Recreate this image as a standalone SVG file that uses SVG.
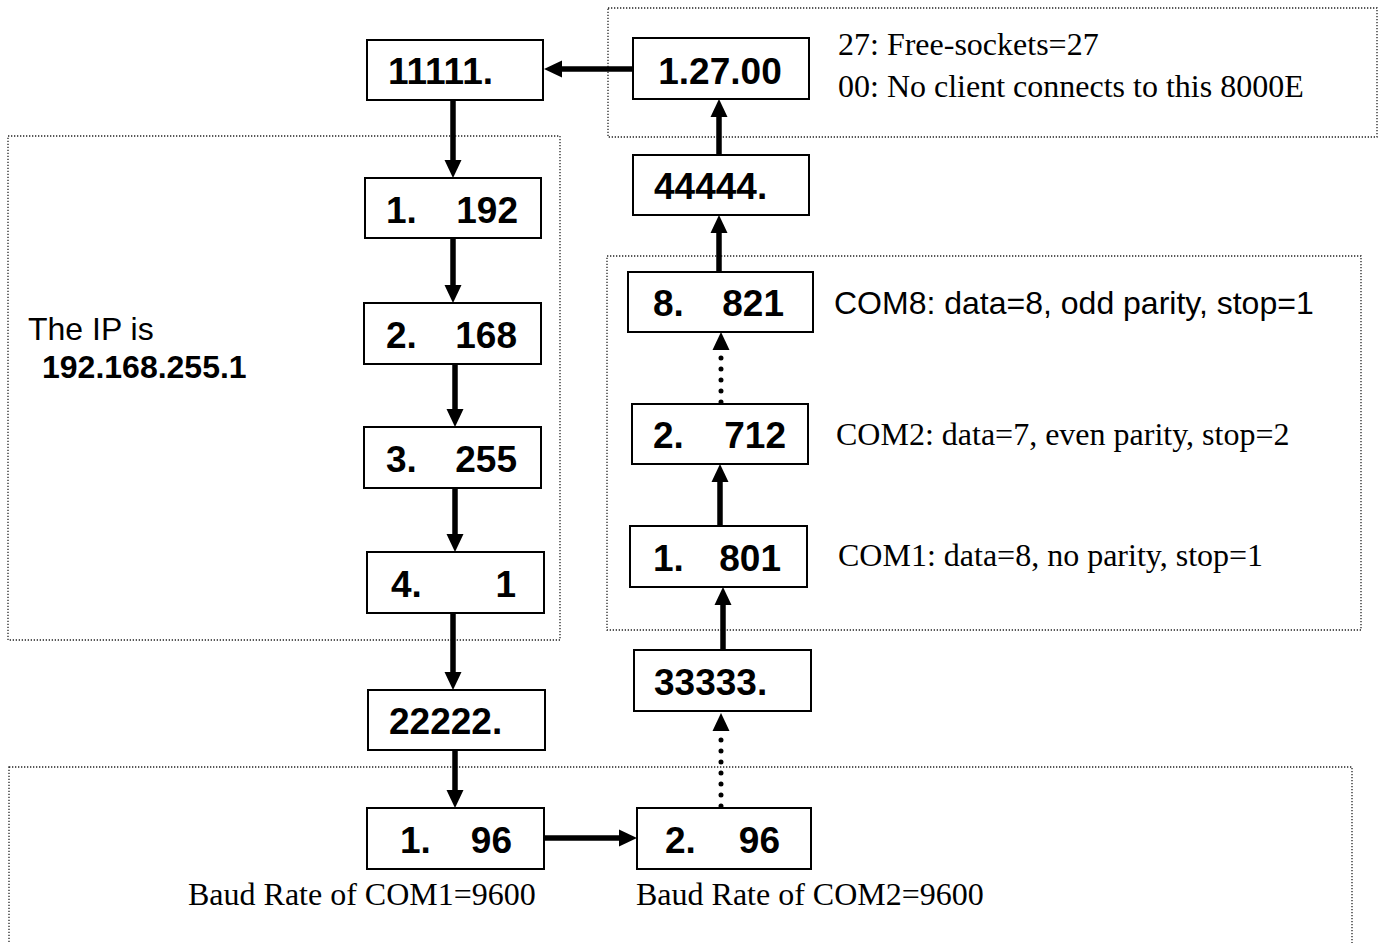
<svg xmlns="http://www.w3.org/2000/svg" width="1385" height="943" viewBox="0 0 1385 943">
<defs>
<style>
.grp{fill:none;stroke:#222;stroke-width:1.3;stroke-dasharray:1.3 1.7}
.box{fill:#fff;stroke:#000;stroke-width:2}
.lbl{font-family:"Liberation Sans",Arial,sans-serif;font-weight:bold;font-size:37px;fill:#000}
.ser{font-family:"Liberation Serif","Times New Roman",serif;font-size:32px;fill:#000}
.san{font-family:"Liberation Sans",Arial,sans-serif;font-size:32px;fill:#000}
.arr{stroke:#000;stroke-width:5.5;fill:none;marker-end:url(#ah)}
.dot{stroke:#000;stroke-width:5;fill:none;stroke-dasharray:0 11;stroke-linecap:round;marker-end:url(#ah)}
</style>
<marker id="ah" markerUnits="userSpaceOnUse" markerWidth="20" markerHeight="18" refX="0" refY="8.5" orient="auto" overflow="visible">
<path d="M0,0 L18,8.5 L0,17 Z" fill="#000"/>
</marker>
</defs>
<rect width="1385" height="943" fill="#fff"/>

<g id="groups">
<rect class="grp" x="608" y="8" width="769" height="129"/>
<rect class="grp" x="8" y="136" width="552" height="504"/>
<rect class="grp" x="607" y="256" width="754" height="374"/>
<rect class="grp" x="9" y="767" width="1343" height="180"/>
</g>

<g id="connectors">
<line class="arr" x1="633" y1="69" x2="562" y2="69"/>
<line class="arr" x1="453" y1="100" x2="453" y2="160"/>
<line class="arr" x1="453" y1="238" x2="453" y2="285"/>
<line class="arr" x1="455" y1="364" x2="455" y2="409"/>
<line class="arr" x1="455" y1="488" x2="455" y2="534"/>
<line class="arr" x1="453" y1="613" x2="453" y2="672"/>
<line class="arr" x1="455" y1="750" x2="455" y2="790"/>
<line class="arr" x1="544" y1="838" x2="619" y2="838"/>
<line class="dot" x1="721" y1="806" x2="721" y2="731"/>
<line class="arr" x1="723" y1="650" x2="723" y2="605"/>
<line class="arr" x1="720" y1="526" x2="720" y2="482"/>
<line class="dot" x1="721" y1="402" x2="721" y2="350"/>
<line class="arr" x1="719" y1="272" x2="719" y2="233"/>
<line class="arr" x1="719" y1="155" x2="719" y2="117"/>
</g>

<g id="n11111">
<rect class="box" x="367" y="40" width="176" height="60"/>
<text class="lbl" x="388" y="84">11111.</text>
</g>
<g id="n12700">
<rect class="box" x="633" y="38" width="176" height="61"/>
<text class="lbl" x="720" y="84" text-anchor="middle" font-size="40">1.27.00</text>
</g>
<g id="n44444">
<rect class="box" x="633" y="155" width="176" height="60"/>
<text class="lbl" x="654" y="199">44444.</text>
</g>
<g id="n192">
<rect class="box" x="365" y="178" width="176" height="60"/>
<text class="lbl" x="386" y="223">1.</text>
<text class="lbl" x="518" y="223" text-anchor="end">192</text>
</g>
<g id="n168">
<rect class="box" x="364" y="303" width="177" height="61"/>
<text class="lbl" x="386" y="348">2.</text>
<text class="lbl" x="517" y="348" text-anchor="end">168</text>
</g>
<g id="n255">
<rect class="box" x="364" y="427" width="177" height="61"/>
<text class="lbl" x="386" y="472">3.</text>
<text class="lbl" x="517" y="472" text-anchor="end">255</text>
</g>
<g id="n1">
<rect class="box" x="367" y="552" width="177" height="61"/>
<text class="lbl" x="391" y="597">4.</text>
<text class="lbl" x="516" y="597" text-anchor="end">1</text>
</g>
<g id="n22222">
<rect class="box" x="368" y="690" width="177" height="60"/>
<text class="lbl" x="389" y="734">22222.</text>
</g>
<g id="n821">
<rect class="box" x="628" y="272" width="185" height="60"/>
<text class="lbl" x="653" y="316">8.</text>
<text class="lbl" x="784" y="316" text-anchor="end">821</text>
</g>
<g id="n712">
<rect class="box" x="632" y="404" width="176" height="60"/>
<text class="lbl" x="653" y="448">2.</text>
<text class="lbl" x="786" y="448" text-anchor="end">712</text>
</g>
<g id="n801">
<rect class="box" x="630" y="526" width="177" height="61"/>
<text class="lbl" x="653" y="571">1.</text>
<text class="lbl" x="781" y="571" text-anchor="end">801</text>
</g>
<g id="n33333">
<rect class="box" x="634" y="650" width="177" height="61"/>
<text class="lbl" x="654" y="695">33333.</text>
</g>
<g id="n196">
<rect class="box" x="367" y="808" width="177" height="61"/>
<text class="lbl" x="400" y="853">1.</text>
<text class="lbl" x="512" y="853" text-anchor="end">96</text>
</g>
<g id="n296">
<rect class="box" x="637" y="808" width="174" height="61"/>
<text class="lbl" x="665" y="853">2.</text>
<text class="lbl" x="780" y="853" text-anchor="end">96</text>
</g>

<g id="notes">
<text class="ser" x="838" y="55">27: Free-sockets=27</text>
<text class="ser" x="838" y="97">00: No client connects to this 8000E</text>
<text class="san" x="834" y="314">COM8: data=8, odd parity, stop=1</text>
<text class="ser" x="836" y="445">COM2: data=7, even parity, stop=2</text>
<text class="ser" x="838" y="566">COM1: data=8, no parity, stop=1</text>
<text class="san" x="28" y="340">The IP is</text>
<text class="san" x="42" y="378" font-weight="bold">192.168.255.1</text>
<text class="ser" x="188" y="905">Baud Rate of COM1=9600</text>
<text class="ser" x="636" y="905">Baud Rate of COM2=9600</text>
</g>
</svg>
